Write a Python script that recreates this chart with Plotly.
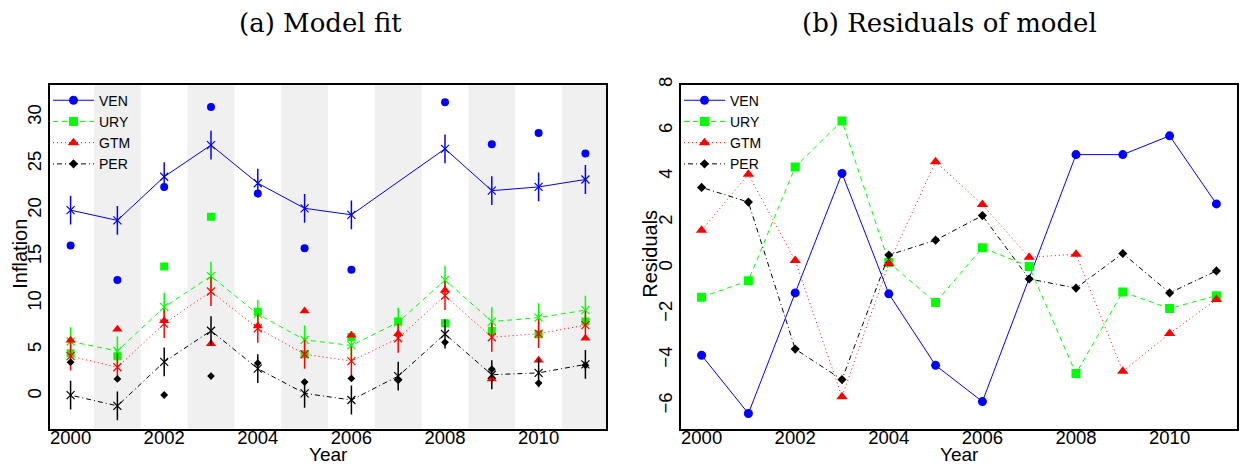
import plotly.graph_objects as go

years = list(range(2000, 2012))
countries = ["VEN", "URY", "GTM", "PER"]

ven_fit = [20.0, 18.9, 23.6, 27.0, 22.9, 20.2, 19.5, None, 26.6, 22.1, 22.5, 23.3]
ven_obs = [16.2, 12.5, 22.5, 31.1, 21.8, 15.9, 13.6, None, 31.6, 27.1, 28.3, 26.1]
ven_res = [-3.8, -6.34, -1.08, 4.13, -1.12, -4.24, -5.82, None, 4.95, 4.95, 5.77, 2.80]

ury_fit = [5.87, 4.85, 9.57, 12.9, 8.82, 6.05, 5.45, 7.95, 12.48, 8.02, 8.44, 9.25]
ury_obs = [4.6, 4.3, 13.95, 19.3, 9.07, 4.5, 6.35, 8.02, 7.85, 7.0, 6.65, 8.02]
ury_res = [-1.27, -0.55, 4.41, 6.42, 0.25, -1.5, 0.89, 0.07, -4.6, -1.04, -1.76, -1.2]

gtm_fit = [4.3, 3.1, 7.8, 11.25, 7.3, 4.5, 3.77, 6.22, 10.8, 6.33, 6.72, 7.63]
gtm_obs = [6.0, 7.2, 8.1, 5.62, 7.55, 9.15, 6.54, 6.7, 11.4, 1.85, 3.87, 6.22]
gtm_res = [1.65, 4.09, 0.33, -5.61, 0.2, 4.64, 2.77, 0.47, 0.61, -4.5, -2.85, -1.37]

per_fit = [0.1, -1.05, 3.69, 7.03, 2.95, 0.3, -0.42, 2.15, 6.68, 2.3, 2.5, 3.41]
per_obs = [3.65, 1.85, 0.12, 2.15, 3.55, 1.51, 1.9, 1.7, 5.78, 2.9, 1.4, 3.32]
per_res = [3.52, 2.88, -3.53, -4.86, 0.57, 1.22, 2.29, -0.47, -0.87, 0.64, -1.08, -0.12]

fit_half_width = 1.55
shaded_years = [2001, 2003, 2005, 2007, 2009, 2011]

fits = [ven_fit, ury_fit, gtm_fit, per_fit]
obss = [ven_obs, ury_obs, gtm_obs, per_obs]
ress = [ven_res, ury_res, gtm_res, per_res]
colors = ["#0000FF", "#00FF00", "#FF0000", "#000000"]
symbols = ["circle", "square", "triangle-up", "diamond"]
msizes = [8, 8, 9, 6]
dashes = ["solid", "5px,4px", "1px,3px", "1px,3px,5px,3px"]

W, H = 1243, 466
def px_x(p):
    return p / W
def px_y(p):
    return 1 - p / H

fig = go.Figure()

for i, c in enumerate(countries):
    fig.add_trace(go.Scatter(
        x=years, y=fits[i], mode="lines+markers", connectgaps=True,
        line=dict(color=colors[i], width=1, dash=dashes[i]),
        marker=dict(symbol="x-thin", size=8, line=dict(color=colors[i], width=1.2)),
        error_y=dict(type="constant", value=fit_half_width, color=colors[i],
                     thickness=1.5, width=0),
        showlegend=False, xaxis="x", yaxis="y"))
    fig.add_trace(go.Scatter(
        x=years, y=obss[i], mode="markers",
        marker=dict(symbol=symbols[i], size=msizes[i], color=colors[i]),
        showlegend=False, xaxis="x", yaxis="y"))
    fig.add_trace(go.Scatter(
        x=[None], y=[None], mode="lines+markers", name=c,
        line=dict(color=colors[i], width=1, dash=dashes[i]),
        marker=dict(symbol=symbols[i], size=msizes[i] + 1, color=colors[i]),
        legend="legend", xaxis="x", yaxis="y"))
    fig.add_trace(go.Scatter(
        x=years, y=ress[i], mode="lines+markers", name=c, connectgaps=True,
        line=dict(color=colors[i], width=1, dash=dashes[i]),
        marker=dict(symbol=symbols[i], size=msizes[i] + 1, color=colors[i]),
        legend="legend2", xaxis="x2", yaxis="y2"))

shapes = []
for yr in shaded_years:
    shapes.append(dict(type="rect", xref="x", yref="y domain", x0=yr - 0.5, x1=yr + 0.5,
                       y0=0, y1=1, fillcolor="#F0F0F0", line=dict(width=0), layer="below"))

tickfont = dict(family="Liberation Sans, Arial, sans-serif", size=18.5, color="black")
xrange = [1999.56, 2011.44]
axis_common = dict(showline=True, mirror=True, linecolor="black", linewidth=1.5,
                   showgrid=False, zeroline=False, tickfont=tickfont)
xaxis_extra = dict(ticks="outside", ticklen=0, tickwidth=0, ticklabelstandoff=-9)

dom_y = [px_y(428), px_y(78)]
legfont = dict(family="Liberation Sans, Arial", size=14, color="black")
xticks = [2000, 2002, 2004, 2006, 2008, 2010]
labfont = dict(family="Liberation Sans, Arial", size=19, color="black")

fig.update_layout(
    width=W, height=H, margin=dict(l=0, r=0, t=0, b=0),
    paper_bgcolor="white", plot_bgcolor="white",
    shapes=shapes,
    xaxis=dict(domain=[px_x(50), px_x(606)], range=xrange, tickvals=xticks,
               anchor="y", **xaxis_extra, **axis_common),
    yaxis=dict(domain=dom_y, range=[-3.5, 33.5], tickvals=[0, 5, 10, 15, 20, 25, 30],
               tickangle=-90, anchor="x", ticks="", **axis_common),
    xaxis2=dict(domain=[px_x(681), px_x(1237)], range=xrange, tickvals=xticks,
                anchor="y2", **xaxis_extra, **axis_common),
    yaxis2=dict(domain=dom_y, range=[-7, 8.001], tickvals=[-6, -4, -2, 0, 2, 4, 6, 8],
                ticktext=["\u22126", "\u22124", "\u22122", "0", "2", "4", "6", "8"],
                tickangle=-90, anchor="x2", ticks="", **axis_common),
    legend=dict(x=px_x(48), y=px_y(78), xanchor="left", yanchor="top",
                bgcolor="rgba(0,0,0,0)", font=legfont, itemwidth=41, tracegroupgap=0),
    legend2=dict(x=px_x(679), y=px_y(78), xanchor="left", yanchor="top",
                 bgcolor="rgba(0,0,0,0)", font=legfont, itemwidth=41, tracegroupgap=0),
    annotations=[
        dict(text="(a) Model fit", x=px_x(320), y=px_y(15), xref="paper", yref="paper",
             xanchor="center", yanchor="middle", showarrow=False,
             font=dict(family="DejaVu Serif", size=26, color="black")),
        dict(text="(b) Residuals of model", x=px_x(949), y=px_y(15), xref="paper", yref="paper",
             xanchor="center", yanchor="middle", showarrow=False,
             font=dict(family="DejaVu Serif", size=26, color="black")),
        dict(text="Year", x=px_x(328), y=0, xref="paper", yref="paper",
             xanchor="center", yanchor="bottom", showarrow=False, yshift=-1,
             font=labfont),
        dict(text="Year", x=px_x(959), y=0, xref="paper", yref="paper",
             xanchor="center", yanchor="bottom", showarrow=False, yshift=-1,
             font=labfont),
        dict(text="Inflation", x=px_x(20), y=px_y(250), xref="paper", yref="paper",
             xanchor="center", yanchor="middle", showarrow=False, textangle=-90,
             font=dict(family="Liberation Sans, Arial", size=20, color="black")),
        dict(text="Residuals", x=px_x(650), y=px_y(250), xref="paper", yref="paper",
             xanchor="center", yanchor="middle", showarrow=False, textangle=-90,
             font=dict(family="Liberation Sans, Arial", size=20, color="black")),
    ],
)

fig.write_html("out.html")
